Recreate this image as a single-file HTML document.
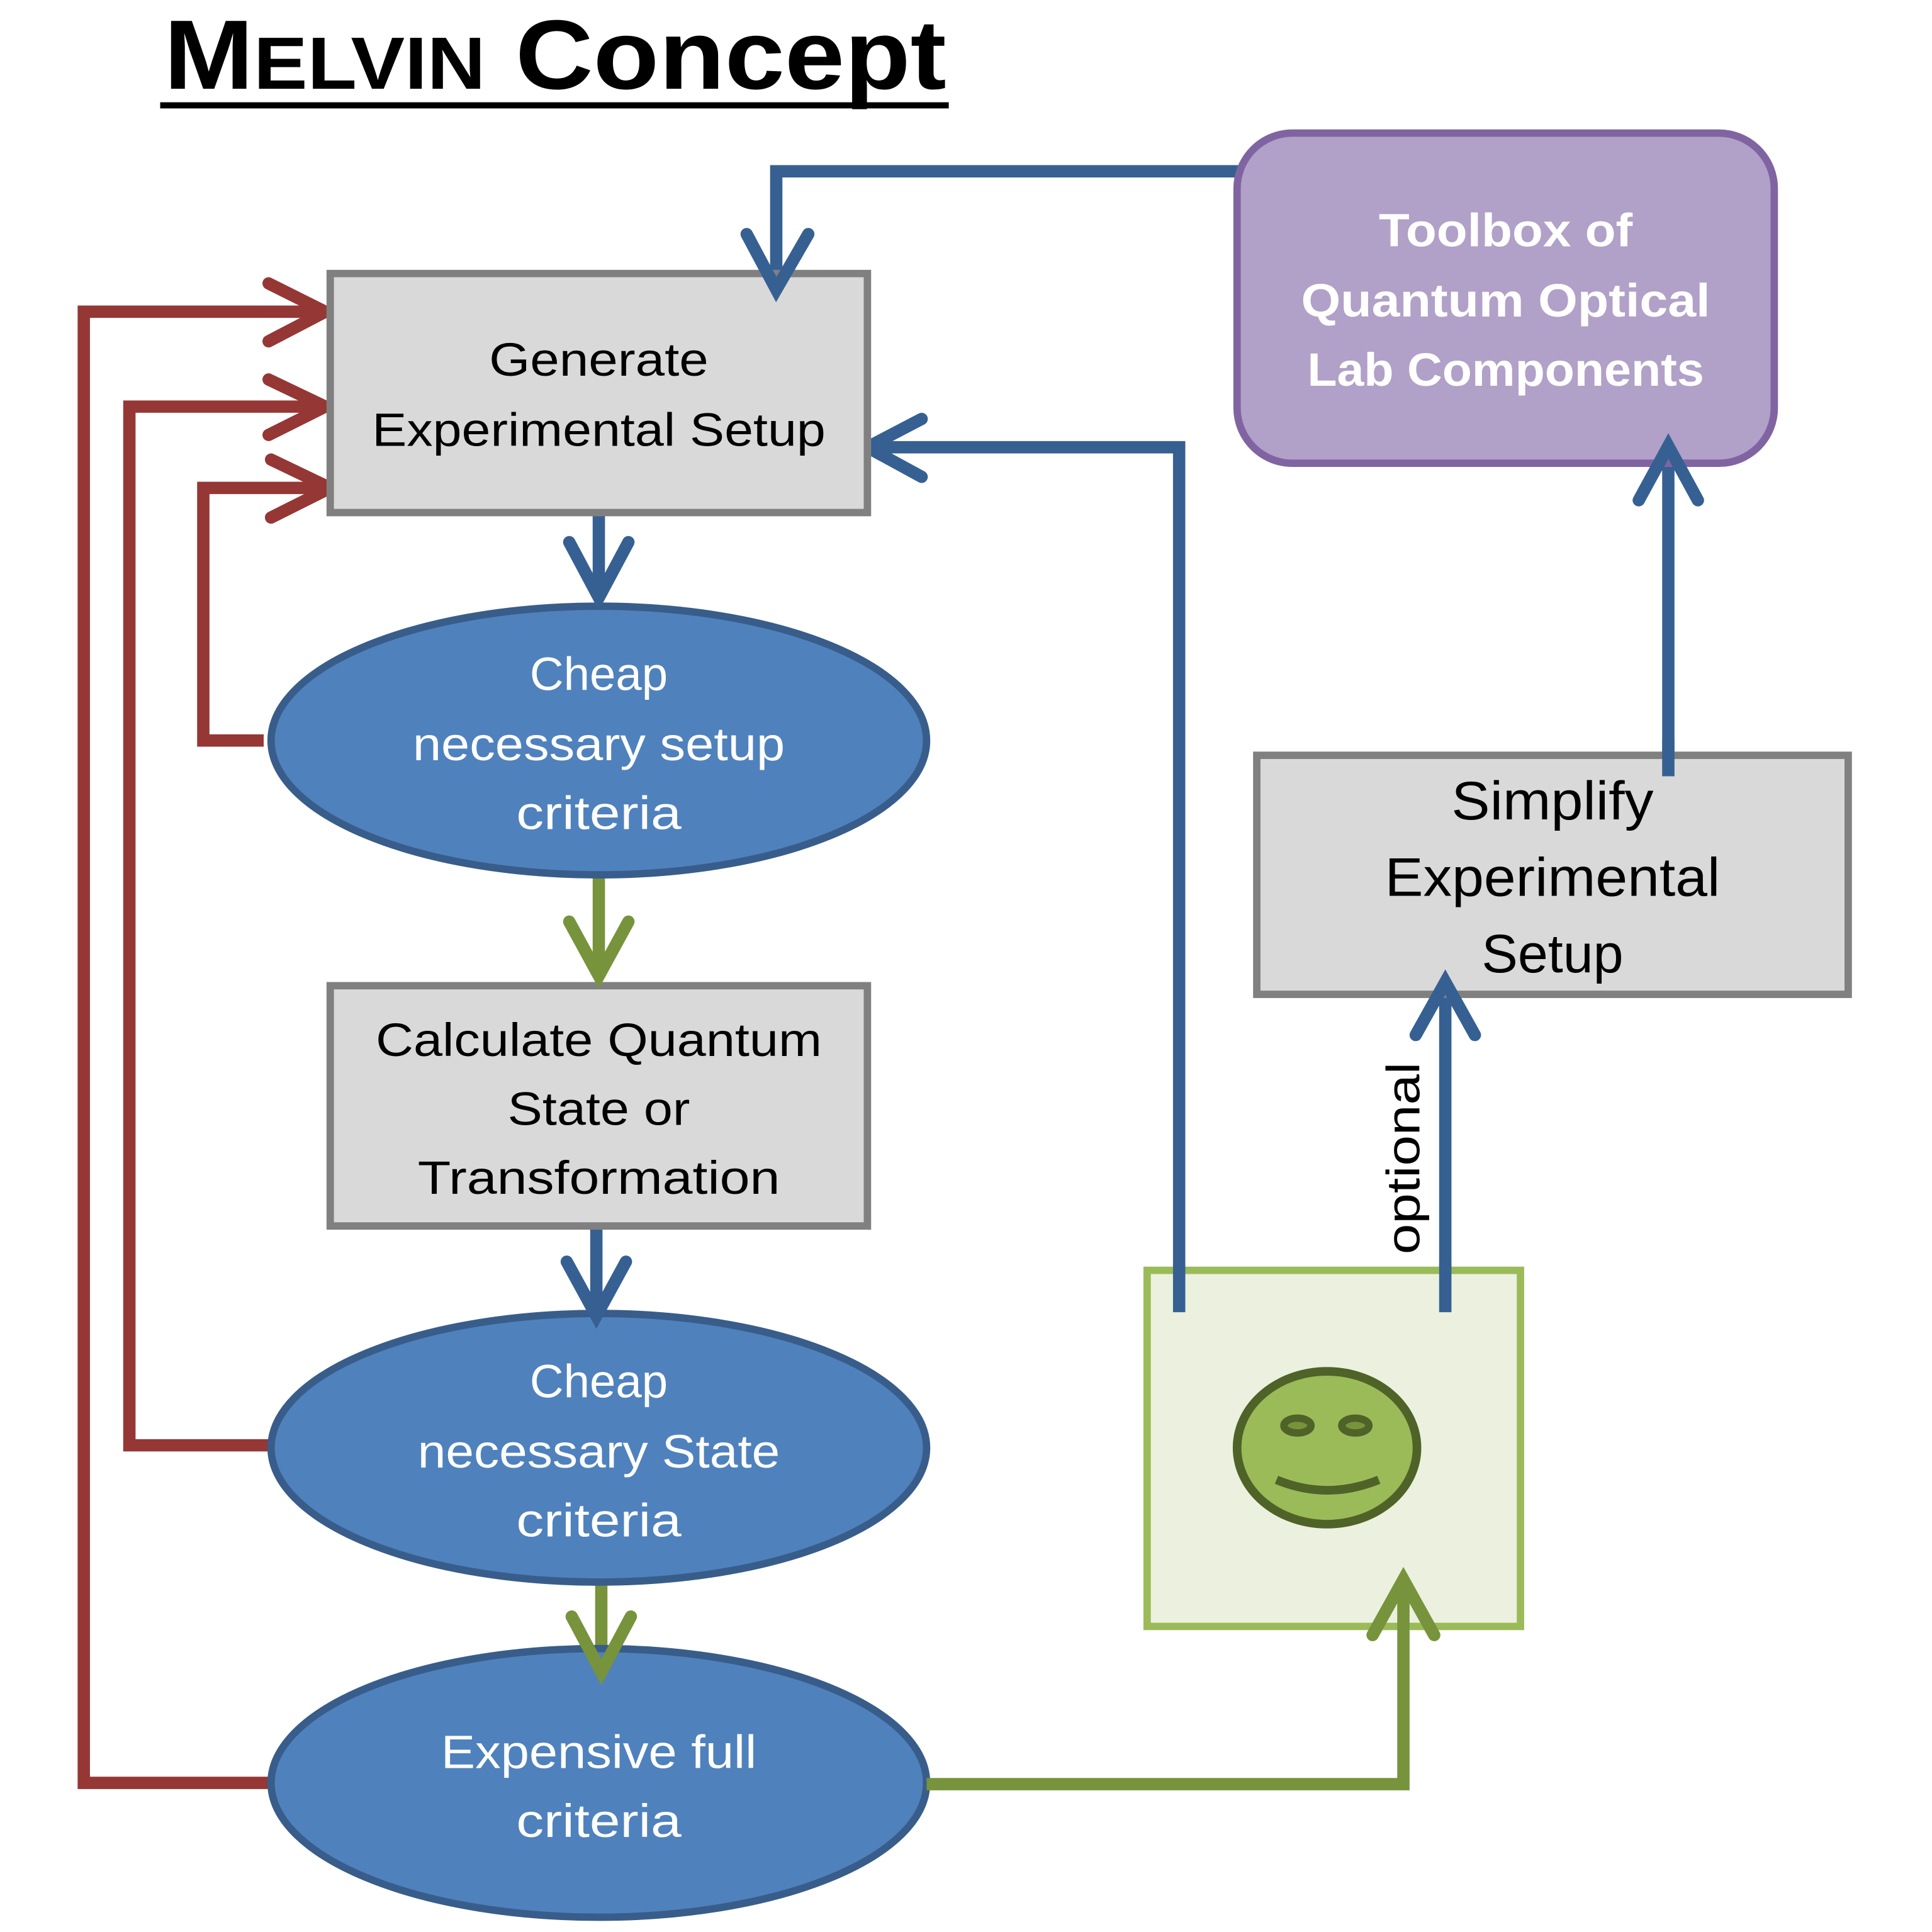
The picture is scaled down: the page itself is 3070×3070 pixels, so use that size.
<!DOCTYPE html>
<html><head><meta charset="utf-8"><style>html,body{margin:0;padding:0;background:#fff}svg{display:block}</style></head>
<body>
<svg xmlns="http://www.w3.org/2000/svg" width="3070" height="3070" viewBox="0 0 1568 1568" font-family="'Liberation Sans', sans-serif">
<rect width="1568" height="1568" fill="#fff"/>
<text x="133" y="72" font-size="80" font-weight="bold" textLength="635" lengthAdjust="spacingAndGlyphs">M<tspan font-size="60">ELVIN</tspan> Concept</text>
<rect x="130" y="83" width="640" height="5" fill="#000"/>

<g fill="none" stroke-width="10" stroke-linecap="round" stroke-linejoin="miter">
<g stroke="#953735">
<polyline points="218,1447 68,1447 68,253 262,253" stroke-linecap="butt"/>
<polyline points="218,230 264,253 218,277"/>
<polyline points="218,1173 105,1173 105,330 262,330" stroke-linecap="butt"/>
<polyline points="218,308 264,330 218,353"/>
<polyline points="214,601 165,601 165,396 266,396" stroke-linecap="butt"/>
<polyline points="220,373 268,396 220,420"/>
</g>
<g stroke="#366092">
<polyline points="1028,139 630,139 630,233" stroke-linecap="butt"/>
<polyline points="486,416 486,485" stroke-linecap="butt"/>
<polyline points="957,1065 957,363 704,363" stroke-linecap="butt"/>
<polyline points="748,340 704,363 748,387"/>
<polyline points="1173,1065 1173,797" stroke-linecap="butt"/>
<polyline points="1354,630 1354,362" stroke-linecap="butt"/>
<polyline points="484,987 484,1068" stroke-linecap="butt"/>
</g>
<g stroke="#77933c">
<polyline points="486,712 486,792" stroke-linecap="butt"/>
<polyline points="488,1275 488,1357" stroke-linecap="butt"/>
</g>
</g>

<rect x="268" y="222" width="436" height="194" fill="#d9d9d9" stroke="#808080" stroke-width="6"/>
<rect x="268" y="800" width="436" height="195" fill="#d9d9d9" stroke="#808080" stroke-width="6"/>
<rect x="1020" y="613" width="480" height="194" fill="#d9d9d9" stroke="#808080" stroke-width="6"/>
<rect x="1004" y="108" width="436" height="268" rx="45" fill="#b1a0c7" stroke="#8064a2" stroke-width="6"/>
<rect x="931" y="1031" width="303" height="289" fill="#ebf1de" stroke="#9bbb59" stroke-width="6"/>

<g fill="#4f81bd" stroke="#385d8a" stroke-width="6">
<ellipse cx="486" cy="601" rx="266" ry="109"/>
<ellipse cx="486" cy="1175" rx="266" ry="109"/>
<ellipse cx="486" cy="1447" rx="266" ry="109"/>
</g>

<g fill="none" stroke-width="10" stroke-linecap="round">
<polyline points="606,190 630,235 656,190" stroke="#366092"/>
<polyline points="1149,840 1173,797 1197,840" stroke="#366092"/>
<polyline points="1330,406 1354,362 1378,406" stroke="#366092"/>
<line x1="1354" y1="630" x2="1354" y2="600" stroke="#366092" stroke-linecap="butt"/>
<line x1="957" y1="1065" x2="957" y2="1025" stroke="#366092" stroke-linecap="butt"/>
<line x1="1173" y1="1065" x2="1173" y2="1025" stroke="#366092" stroke-linecap="butt"/>
<polyline points="752,1448 1139,1448 1139,1282" stroke="#77933c" stroke-linecap="butt"/>
<polyline points="1114,1327 1139,1282 1164,1327" stroke="#77933c"/>
<polyline points="462,440 486,485 510,440" stroke="#366092"/>
<polyline points="460,1024 484,1068 508,1024" stroke="#366092"/>
<polyline points="462,748 486,792 510,748" stroke="#77933c"/>
<polyline points="464,1312 488,1357 512,1312" stroke="#77933c"/>
</g>

<ellipse cx="1077" cy="1175" rx="73" ry="62" fill="#9bbb59" stroke="#4f6228" stroke-width="7"/>
<ellipse cx="1053" cy="1157" rx="11" ry="6" fill="#77933c" stroke="#4f6228" stroke-width="6"/>
<ellipse cx="1100" cy="1157" rx="11" ry="6" fill="#77933c" stroke="#4f6228" stroke-width="6"/>
<path d="M1036,1201 Q1077,1218 1119,1201" fill="none" stroke="#4f6228" stroke-width="7"/>

<g font-size="38" text-anchor="middle" fill="#000">
<text x="486" y="305" textLength="178" lengthAdjust="spacingAndGlyphs">Generate</text>
<text x="486" y="362" textLength="368" lengthAdjust="spacingAndGlyphs">Experimental Setup</text>
<text x="486" y="857" textLength="362" lengthAdjust="spacingAndGlyphs">Calculate Quantum</text>
<text x="486" y="913" textLength="148" lengthAdjust="spacingAndGlyphs">State or</text>
<text x="486" y="969" textLength="294" lengthAdjust="spacingAndGlyphs">Transformation</text>
<g font-size="44">
<text x="1260" y="665" textLength="164" lengthAdjust="spacingAndGlyphs">Simplify</text>
<text x="1260" y="727" textLength="272" lengthAdjust="spacingAndGlyphs">Experimental</text>
<text x="1260" y="789">Setup</text>
</g>
</g>
<g font-size="38" text-anchor="middle" fill="#fff">
<text x="486" y="560">Cheap</text>
<text x="486" y="617" textLength="302" lengthAdjust="spacingAndGlyphs">necessary setup</text>
<text x="486" y="673" textLength="134" lengthAdjust="spacingAndGlyphs">criteria</text>
<text x="486" y="1134">Cheap</text>
<text x="486" y="1191" textLength="294" lengthAdjust="spacingAndGlyphs">necessary State</text>
<text x="486" y="1247" textLength="134" lengthAdjust="spacingAndGlyphs">criteria</text>
<text x="486" y="1435" textLength="256" lengthAdjust="spacingAndGlyphs">Expensive full</text>
<text x="486" y="1491" textLength="134" lengthAdjust="spacingAndGlyphs">criteria</text>
<g font-weight="bold">
<text x="1222" y="200" textLength="206" lengthAdjust="spacingAndGlyphs">Toolbox of</text>
<text x="1222" y="257" textLength="332" lengthAdjust="spacingAndGlyphs">Quantum Optical</text>
<text x="1222" y="313" textLength="322" lengthAdjust="spacingAndGlyphs">Lab Components</text>
</g>
</g>
<text transform="translate(1152,940) rotate(-90)" font-size="38" text-anchor="middle" textLength="156" lengthAdjust="spacingAndGlyphs">optional</text>
</svg>
</body></html>
